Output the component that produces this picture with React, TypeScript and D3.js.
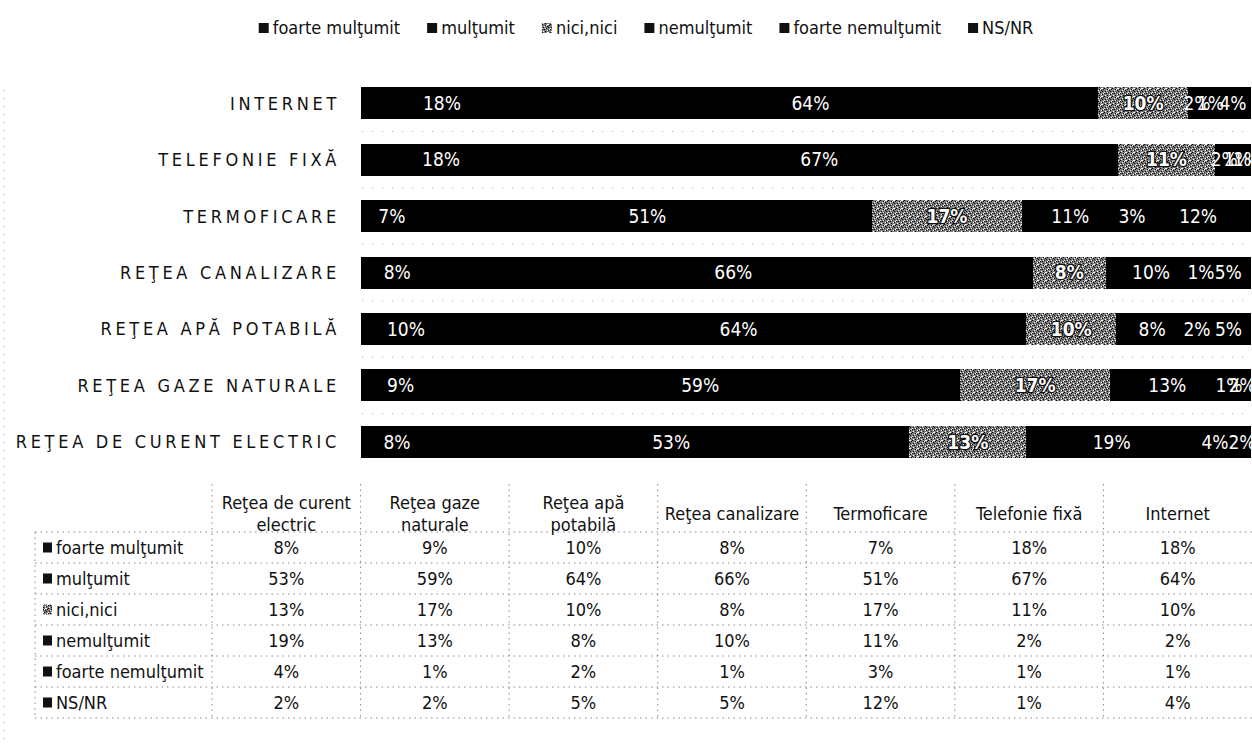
import React, { useEffect, useRef } from "react";
import * as d3 from "d3";

const categories = [
  "Reţea de curent electric",
  "Reţea gaze naturale",
  "Reţea apă potabilă",
  "Reţea canalizare",
  "Termoficare",
  "Telefonie fixă",
  "Internet",
];
const headerLines = [
  ["Reţea de curent", "electric"],
  ["Reţea gaze", "naturale"],
  ["Reţea apă", "potabilă"],
  ["Reţea canalizare"],
  ["Termoficare"],
  ["Telefonie fixă"],
  ["Internet"],
];
const seriesNames = ["foarte mulţumit", "mulţumit", "nici,nici", "nemulţumit", "foarte nemulţumit", "NS/NR"];
const foarteMultumit = [8, 9, 10, 8, 7, 18, 18];
const multumit = [53, 59, 64, 66, 51, 67, 64];
const niciNici = [13, 17, 10, 8, 17, 11, 10];
const nemultumit = [19, 13, 8, 10, 11, 2, 2];
const foarteNemultumit = [4, 1, 2, 1, 3, 1, 1];
const nsnr = [2, 2, 5, 5, 12, 1, 4];
const seriesValues = [foarteMultumit, multumit, niciNici, nemultumit, foarteNemultumit, nsnr];

const W = 1252;
const H = 744;
const FONT = "'DejaVu Sans Condensed', 'DejaVu Sans', sans-serif";

export default function App() {
  const ref = useRef<SVGSVGElement>(null);

  useEffect(() => {
    const svg = d3.select(ref.current);
    svg.selectAll("*").remove();

    // speckled texture for "nici,nici"
    const defs = svg.append("defs");
    const pat = defs
      .append("pattern")
      .attr("id", "speckle")
      .attr("width", 8)
      .attr("height", 8)
      .attr("patternUnits", "userSpaceOnUse");
    pat.append("rect").attr("width", 8).attr("height", 8).attr("fill", "#7d7d7d");
    const darks = [[0, 0], [3, 1], [1, 3], [4, 4], [2, 5], [5, 2], [0, 5], [6, 6], [7, 1], [3, 7], [6, 3]];
    const lights = [[2, 2], [5, 0], [0, 4], [3, 4], [4, 1], [7, 5], [1, 7], [5, 6], [6, 0]];
    darks.forEach(([a, b]) => pat.append("rect").attr("x", a).attr("y", b).attr("width", 1).attr("height", 1).attr("fill", "#000"));
    lights.forEach(([a, b]) => pat.append("rect").attr("x", a).attr("y", b).attr("width", 1).attr("height", 1).attr("fill", "#fff"));

    const fills = ["#000", "#000", "url(#speckle)", "#000", "#000", "#000"];
    const markerFills = ["#111", "#111", "url(#speckle)", "#111", "#111", "#111"];

    svg.append("rect").attr("width", W).attr("height", H).attr("fill", "#fff");

    // scan edge dotted line
    svg
      .append("line")
      .attr("x1", 4)
      .attr("x2", 4)
      .attr("y1", 90)
      .attr("y2", 740)
      .attr("stroke", "#999")
      .attr("stroke-dasharray", "1,7");

    // ---- Legend ----
    const legend = svg.append("g").attr("font-family", FONT).attr("font-size", 18).attr("font-stretch", "condensed");
    const items = legend.selectAll("g").data(seriesNames).join("g");
    items
      .append("rect")
      .attr("width", 10)
      .attr("height", 10)
      .attr("y", 23)
      .attr("fill", (_, i) => markerFills[i]);
    items
      .append("text")
      .attr("x", 14)
      .attr("y", 28)
      .attr("dy", "0.35em")
      .attr("fill", "#111")
      .text((d) => d);
    const widths: number[] = [];
    items.each(function () {
      const t = (this as SVGGElement).querySelector("text") as SVGTextElement;
      widths.push(14 + t.getComputedTextLength());
    });
    const gap = 27;
    const total = d3.sum(widths) + gap * (widths.length - 1);
    let cx = 646 - total / 2;
    items.attr("transform", (_, i) => {
      const tx = cx;
      cx += widths[i] + gap;
      return `translate(${tx},0)`;
    });

    // ---- Bars ----
    const barOrder = categories.slice().reverse();
    const x = d3.scaleLinear().domain([0, 1]).range([361, 1251]);
    const y = d3.scaleBand().domain(barOrder).range([75, 470]).paddingInner(0.434).paddingOuter(0.217);

    const rows = categories.map((c, ci) => {
      const o: any = { category: c };
      seriesNames.forEach((s, si) => (o[s] = seriesValues[si][ci]));
      return o;
    });
    const stacked = d3.stack<any>().keys(seriesNames).offset(d3.stackOffsetExpand)(rows);

    // faint dotted separators between bars
    const sepG = svg.append("g");
    barOrder.slice(0, -1).forEach((c) => {
      const yy = (y(c) as number) + y.bandwidth() + (y.step() - y.bandwidth()) / 2;
      sepG
        .append("line")
        .attr("x1", 362)
        .attr("x2", 1250)
        .attr("y1", yy)
        .attr("y2", yy)
        .attr("stroke", "#aaa")
        .attr("stroke-dasharray", "1,9");
    });

    const barG = svg.append("g").attr("shape-rendering", "crispEdges");
    stacked.forEach((layer, si) => {
      const g = barG.append("g");
      g.selectAll("rect")
        .data(layer)
        .join("rect")
        .attr("x", (d) => Math.round(x(d[0])))
        .attr("y", (d) => Math.round(y(d.data.category) as number))
        .attr("width", (d) => Math.round(x(d[1])) - Math.round(x(d[0])))
        .attr("height", Math.round(y.bandwidth()))
        .attr("fill", fills[si]);
    });
    const labelG = svg.append("g");
    stacked.forEach((layer, si) => {
      const g = labelG
        .append("g")
        .attr("font-family", FONT)
        .attr("font-stretch", "condensed")
        .attr("font-size", 19)
        .attr("text-anchor", "middle");
      g.selectAll("text")
        .data(layer)
        .join("text")
        .attr("x", (d) => (x(d[0]) + x(d[1])) / 2)
        .attr("y", (d) => (y(d.data.category) as number) + y.bandwidth() / 2)
        .attr("dy", "0.36em")
        .attr("fill", "#fff")
        .attr("font-weight", si === 2 ? "bold" : "normal")
        .attr("stroke", si === 2 ? "#111" : "none")
        .attr("stroke-width", si === 2 ? 2.5 : 0)
        .attr("paint-order", "stroke")
        .text((d) => `${d.data[seriesNames[si]]}%`);
    });

    // category labels
    svg
      .append("g")
      .attr("font-family", FONT)
      .attr("font-stretch", "condensed")
      .attr("font-size", 18)
      .attr("letter-spacing", 3.7)
      .attr("text-anchor", "end")
      .selectAll("text")
      .data(barOrder)
      .join("text")
      .attr("x", 340)
      .attr("y", (d) => (y(d) as number) + y.bandwidth() / 2)
      .attr("dy", "0.36em")
      .attr("fill", "#111")
      .text((d) => d.toLocaleUpperCase("ro"));

    // ---- Data table ----
    const colX = d3.scaleBand().domain(categories).range([212, 1252]);
    const rowY = d3.scaleBand().domain(seriesNames).range([532, 718]);
    const tg = svg.append("g").attr("font-family", FONT).attr("font-stretch", "condensed").attr("font-size", 18).attr("fill", "#111");
    const dash = { stroke: "#888", "stroke-dasharray": "1.5,4" };

    // horizontal separators
    seriesNames.concat(["__end"]).forEach((s, i) => {
      const yy = i < seriesNames.length ? (rowY(s) as number) : rowY.range()[1];
      const l = tg.append("line").attr("x1", 35).attr("x2", 1252).attr("y1", yy).attr("y2", yy);
      Object.entries(dash).forEach(([k, v]) => l.attr(k, v));
    });
    // left border of row labels
    {
      const l = tg.append("line").attr("x1", 35).attr("x2", 35).attr("y1", 532).attr("y2", 718);
      Object.entries(dash).forEach(([k, v]) => l.attr(k, v));
    }
    // column separators
    categories.forEach((c) => {
      const xx = colX(c) as number;
      const l = tg.append("line").attr("x1", xx).attr("x2", xx).attr("y1", 484).attr("y2", 718);
      Object.entries(dash).forEach(([k, v]) => l.attr(k, v));
    });

    // headers
    categories.forEach((c, ci) => {
      const lines = headerLines[ci];
      const cxx = (colX(c) as number) + colX.bandwidth() / 2;
      const mid = 514;
      lines.forEach((ln, li) => {
        tg.append("text")
          .attr("x", cxx)
          .attr("y", mid + (li - (lines.length - 1) / 2) * 22)
          .attr("dy", "0.36em")
          .attr("text-anchor", "middle")
          .text(ln);
      });
    });

    // row labels and values
    seriesNames.forEach((s, si) => {
      const yy = (rowY(s) as number) + rowY.bandwidth() / 2;
      tg.append("rect").attr("x", 43).attr("y", yy - 5).attr("width", 9).attr("height", 10).attr("fill", markerFills[si]);
      tg.append("text").attr("x", 56).attr("y", yy).attr("dy", "0.36em").text(s);
      categories.forEach((c, ci) => {
        tg.append("text")
          .attr("x", (colX(c) as number) + colX.bandwidth() / 2)
          .attr("y", yy)
          .attr("dy", "0.36em")
          .attr("text-anchor", "middle")
          .text(`${seriesValues[si][ci]}%`);
      });
    });
  }, []);

  return (
    <svg
      ref={ref}
      width={W}
      height={H}
      style={{ position: "absolute", left: 0, top: 0, background: "#fff" }}
    />
  );
}
